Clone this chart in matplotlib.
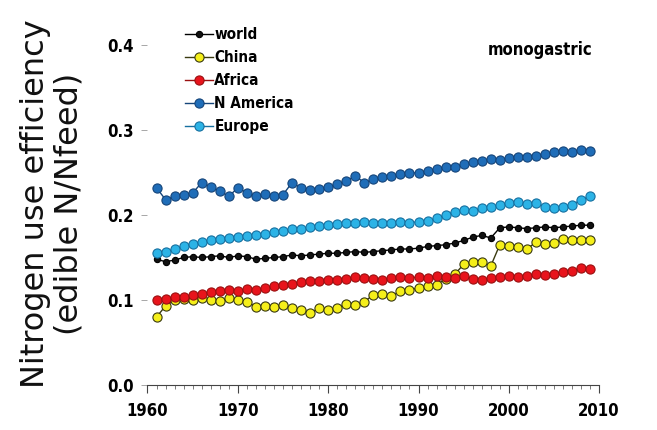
import numpy as np
import matplotlib
matplotlib.use("Agg")
import matplotlib.pyplot as plt
from matplotlib.ticker import MultipleLocator, FormatStrFormatter

years = list(range(1961, 2010))

world = [0.148, 0.145, 0.147, 0.150, 0.151, 0.150, 0.151, 0.152, 0.150, 0.152,
         0.151, 0.148, 0.149, 0.150, 0.151, 0.153, 0.152, 0.153, 0.154, 0.155,
         0.155, 0.156, 0.157, 0.156, 0.157, 0.158, 0.159, 0.160, 0.160, 0.161,
         0.163, 0.164, 0.165, 0.167, 0.170, 0.174, 0.176, 0.173, 0.185, 0.186,
         0.185, 0.184, 0.185, 0.186, 0.185, 0.186, 0.187, 0.188, 0.188]

china = [0.080, 0.093, 0.100, 0.101, 0.100, 0.102, 0.100, 0.099, 0.102, 0.100,
         0.098, 0.092, 0.093, 0.092, 0.094, 0.090, 0.088, 0.085, 0.090, 0.088,
         0.091, 0.095, 0.094, 0.098, 0.106, 0.107, 0.105, 0.110, 0.112, 0.114,
         0.116, 0.118, 0.125, 0.130, 0.142, 0.145, 0.145, 0.140, 0.165, 0.163,
         0.162, 0.160, 0.168, 0.166, 0.167, 0.172, 0.170, 0.171, 0.170]

africa = [0.100, 0.101, 0.103, 0.104, 0.106, 0.107, 0.109, 0.110, 0.112, 0.111,
          0.113, 0.112, 0.114, 0.116, 0.118, 0.119, 0.121, 0.122, 0.122, 0.123,
          0.124, 0.125, 0.127, 0.126, 0.125, 0.124, 0.126, 0.127, 0.126, 0.127,
          0.126, 0.128, 0.127, 0.126, 0.128, 0.125, 0.124, 0.126, 0.127, 0.128,
          0.127, 0.128, 0.130, 0.129, 0.131, 0.133, 0.134, 0.138, 0.136]

n_america = [0.232, 0.218, 0.222, 0.224, 0.226, 0.238, 0.233, 0.228, 0.222, 0.232,
             0.226, 0.222, 0.225, 0.222, 0.224, 0.238, 0.232, 0.229, 0.231, 0.233,
             0.236, 0.240, 0.246, 0.238, 0.242, 0.245, 0.246, 0.248, 0.249, 0.250,
             0.252, 0.254, 0.256, 0.257, 0.260, 0.262, 0.264, 0.266, 0.265, 0.267,
             0.268, 0.268, 0.270, 0.272, 0.274, 0.275, 0.274, 0.276, 0.275]

europe = [0.155, 0.156, 0.160, 0.163, 0.166, 0.168, 0.170, 0.172, 0.173, 0.174,
          0.175, 0.176, 0.178, 0.180, 0.181, 0.183, 0.184, 0.186, 0.187, 0.188,
          0.189, 0.190, 0.191, 0.192, 0.191, 0.190, 0.191, 0.192, 0.191, 0.192,
          0.193, 0.196, 0.200, 0.204, 0.206, 0.205, 0.208, 0.210, 0.212, 0.214,
          0.215, 0.213, 0.214, 0.210, 0.208, 0.210, 0.212, 0.218, 0.222]

narrow = ["Liberation Sans Narrow", "DejaVu Sans"]

fig = plt.figure(figsize=(6.57, 4.30), dpi=100)
ax = fig.add_axes([0.2245, 0.1047, 0.6875, 0.7906])

# name, values, face colour, edge colour, marker size
series = [
    ("world", world, "#111111", "#000000", 4.5),
    ("China", china, "#f5ef1a", "#3a3a10", 6.6),
    ("Africa", africa, "#e8141c", "#9a1010", 6.6),
    ("N America", n_america, "#1f6db8", "#15457a", 6.6),
    ("Europe", europe, "#2cb3e6", "#1670a0", 6.6),
]
for name, vals, fc, ec, ms in series:
    ax.plot(years, vals, "-o", color=ec, lw=1.0, markerfacecolor=fc,
            markeredgecolor=ec, markeredgewidth=0.8, markersize=ms, label=name)

ax.set_xlim(1960, 2010)
ax.set_ylim(0, 0.4)
ax.xaxis.set_major_locator(MultipleLocator(10))
ax.xaxis.set_minor_locator(MultipleLocator(1))
ax.yaxis.set_major_locator(MultipleLocator(0.1))
ax.yaxis.set_major_formatter(FormatStrFormatter("%.1f"))

for side in ("top", "right", "left"):
    ax.spines[side].set_visible(False)
ax.spines["bottom"].set_color("#444444")
ax.spines["bottom"].set_linewidth(0.8)
ax.tick_params(axis="x", which="major", length=6, width=0.8, color="#444444", pad=6)
ax.tick_params(axis="x", which="minor", length=3, width=0.6, color="#666666")
ax.tick_params(axis="y", length=4, width=0.6, color="#999999", pad=6)
for lab in ax.get_xticklabels() + ax.get_yticklabels():
    lab.set_fontfamily(narrow)
    lab.set_fontstretch("condensed")
    lab.set_fontweight("bold")
    lab.set_fontsize(12)

leg = ax.legend(loc="upper left", bbox_to_anchor=(0.07, 1.07), frameon=False,
                handlelength=1.8, handletextpad=0.1, labelspacing=0.52,
                borderaxespad=0, prop={"family": narrow, "stretch": "condensed",
                                       "weight": "bold", "size": 11})

ax.text(0.985, 0.985, "monogastric", transform=ax.transAxes, ha="right", va="center",
        fontfamily=narrow, fontstretch="condensed", fontweight="bold", fontsize=12)

fig.text(0.08, 0.526, "Nitrogen use efficiency\n(edible N/Nfeed)", rotation=90,
         ha="center", va="center", multialignment="center", color="#111111",
         fontfamily="DejaVu Sans", fontsize=23, linespacing=1.12)

fig.savefig("out.png", dpi=100)
